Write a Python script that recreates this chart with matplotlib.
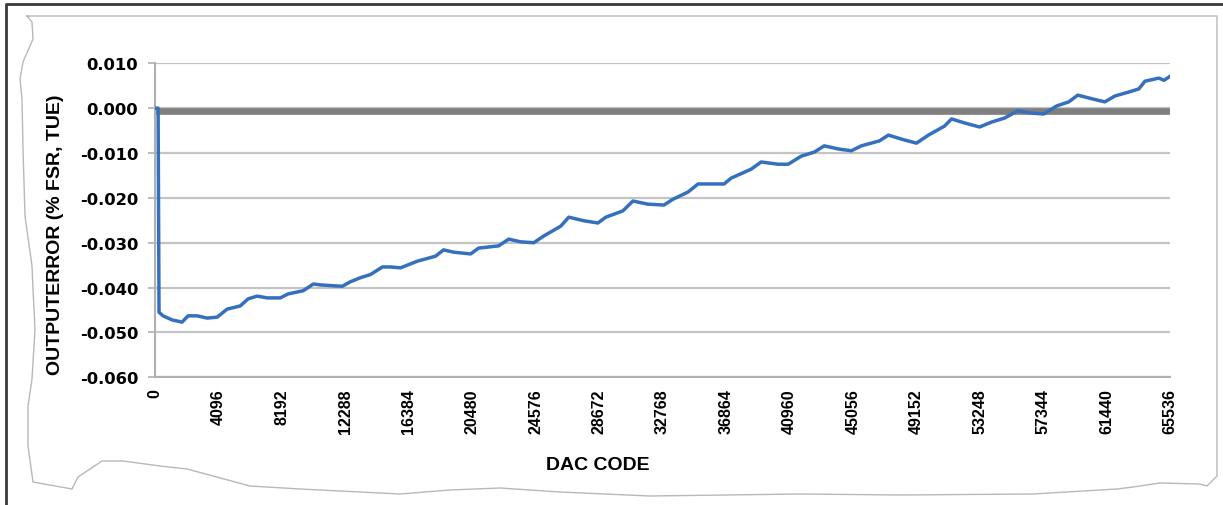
import numpy as np
import matplotlib.pyplot as plt
from matplotlib.lines import Line2D

# DAC code vs output error (TUE, %FSR)
dac_code = [0, 200, 260, 518, 1100, 1747, 2135, 2717, 3364, 4011,
            4658, 5499, 6016, 6598, 7245, 8086, 8604, 9574, 10221, 10674,
            11515, 12097, 12615, 13262, 13909, 14685, 15203, 15850, 16949, 18114,
            18631, 19278, 20378, 20895, 22189, 22836, 23613, 24453, 25100, 26200,
            26718, 27688, 28594, 29111, 30211, 30858, 31828, 32863, 33446, 34416,
            35063, 35904, 36745, 37198, 38491, 39138, 40238, 40885, 41726, 42567,
            43214, 44120, 44961, 45608, 46772, 47354, 48195, 49166, 49942, 50977,
            51430, 52271, 53241, 54017, 54858, 55699, 56605, 57381, 58222, 58998,
            59581, 60487, 61327, 61974, 63074, 63527, 63915, 64821, 65144, 65536]
tue = [0.0, 0.0, -0.0455, -0.0463, -0.0472, -0.0477, -0.0463, -0.0463, -0.0468, -0.0466,
       -0.0448, -0.0441, -0.0425, -0.0419, -0.0423, -0.0423, -0.0414, -0.0407, -0.0392, -0.0394,
       -0.0396, -0.0397, -0.0387, -0.0378, -0.0371, -0.0354, -0.0354, -0.0356, -0.0341, -0.0330,
       -0.0316, -0.0321, -0.0325, -0.0312, -0.0307, -0.0292, -0.0298, -0.0300, -0.0285, -0.0263,
       -0.0243, -0.0251, -0.0256, -0.0243, -0.0229, -0.0207, -0.0214, -0.0216, -0.0203, -0.0187,
       -0.0169, -0.0169, -0.0169, -0.0156, -0.0136, -0.0120, -0.0125, -0.0125, -0.0107, -0.0098,
       -0.0084, -0.0091, -0.0095, -0.0084, -0.0073, -0.0060, -0.0069, -0.0078, -0.0060, -0.0040,
       -0.0024, -0.0033, -0.0042, -0.0031, -0.0022, -0.0006, -0.0011, -0.0013, 0.0005, 0.0014,
       0.0029, 0.0021, 0.0014, 0.0027, 0.0038, 0.0043, 0.0060, 0.0067, 0.0062, 0.0071]
ref_level = -0.0006

x_ticks = list(range(0, 65537, 4096))
y_ticks = [0.010, 0.000, -0.010, -0.020, -0.030, -0.040, -0.050, -0.060]

W, H = 1223, 506
fig = plt.figure(figsize=(W / 100, H / 100), dpi=100)
fig.patch.set_facecolor('white')

# frame + torn paper outline (pixel coords)
def px(pts):
    xs = [p[0] / W for p in pts]
    ys = [1 - p[1] / H for p in pts]
    return xs, ys

xs, ys = px([(6, 506), (6, 5), (1223, 5)])
fig.add_artist(Line2D(xs, ys, color='#3a3a3a', lw=2.0, transform=fig.transFigure))

torn = [(27, 17), (1217, 17), (1217, 477), (1207, 487), (1200, 485), (1160, 484),
        (1133, 488), (1117, 490), (1033, 495), (900, 496), (800, 495), (650, 497),
        (560, 493), (500, 489), (450, 491), (400, 495), (300, 490), (250, 487),
        (213, 477), (187, 470), (160, 467), (123, 462), (102, 462), (78, 478),
        (72, 490), (33, 483), (28, 447), (28, 407), (32, 380), (35, 330),
        (33, 290), (32, 267), (25, 217), (23, 150), (22, 100), (20, 80),
        (23, 63), (33, 40), (32, 23), (27, 17)]
xs, ys = px(torn)
fig.add_artist(Line2D(xs, ys, color='#b8b8b8', lw=1.0, transform=fig.transFigure))

ax = fig.add_axes([155 / W, 1 - 378.3 / H, (1170 - 155) / W, (378.3 - 64.3) / H])
ax.set_xlim(0, 65536)
ax.set_ylim(-0.060, 0.010)

for v in y_ticks:
    ax.axhline(v, color='#c4c4c4', lw=1.6, zorder=1)
ax.axhline(ref_level, color='#7f7f7f', lw=4.8, zorder=2)
ax.plot(dac_code, tue, color='#3570bf', lw=2.5, zorder=3, solid_joinstyle='round')

for s in ['top', 'right']:
    ax.spines[s].set_visible(False)
ax.spines['left'].set_color('#b0b0b0')
ax.spines['bottom'].set_color('#b0b0b0')
ax.spines['left'].set_linewidth(1.5)
ax.spines['bottom'].set_linewidth(1.5)

ax.set_yticks(y_ticks)
ax.set_yticklabels(['%.3f' % v for v in y_ticks], fontsize=11.8, fontweight='bold',
                   family='DejaVu Sans')
ax.tick_params(axis='y', length=5, width=1.2, color='#b0b0b0', pad=7)
ax.set_xticks(x_ticks)
ax.set_xticklabels([str(v) for v in x_ticks], rotation=90, fontsize=11.5,
                   fontweight='bold', family='Liberation Sans')
ax.tick_params(axis='x', length=0, pad=8)

fig.text(56 / W, 1 - 235 / H, 'OUTPUTERROR (% FSR, TUE)', rotation=90,
         ha='center', va='center', fontsize=14, fontweight='bold',
         family='Liberation Sans')
fig.text(598 / W, 1 - 466 / H, 'DAC CODE', ha='center', va='center',
         fontsize=14, fontweight='bold', family='Liberation Sans')

fig.savefig('out.png', dpi=100)
